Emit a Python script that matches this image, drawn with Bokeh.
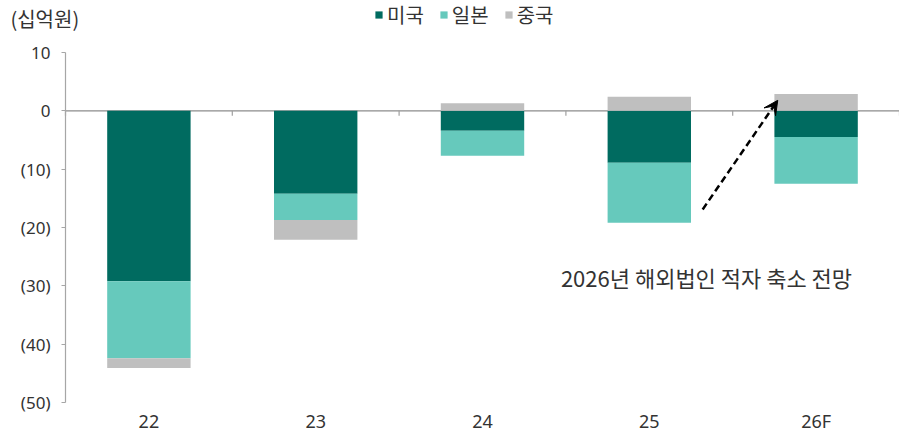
import numpy as np
from bokeh.plotting import figure
from bokeh.models import Range1d, FixedTicker, Label, Arrow, VeeHead, Legend, LegendItem, LinearAxis
from bokeh.embed import file_html
from bokeh.resources import INLINE

# ---- data ----
categories = ["22", "23", "24", "25", "26F"]
us = [-29.2, -14.2, -3.4, -8.9, -4.5]        # 미국
japan = [-13.2, -4.5, -4.3, -10.3, -8.0]     # 일본
china = [-1.7, -3.4, 1.3, 2.4, 2.9]          # 중국
series_names = ["미국", "일본", "중국"]
y_ticks = [10, 0, -10, -20, -30, -40, -50]
y_tick_labels = ["10", "0", "(10)", "(20)", "(30)", "(40)", "(50)"]
y_min, y_max = -50, 10
unit_label = "(십억원)"
note_text = "2026년 해외법인 적자 축소 전망"

# annotation positions (data coords)
arrow_start = (3.82, -16.9)
arrow_end = (4.27, 1.8)
note_pos = (2.97, -28.4)
unit_pos = (-0.33, 15.8)

# ---- layout (pixels) ----
W, H = 899, 433
axis_left_px, axis_top_px, axis_bottom_px = 65, 52, 402

colors = ["#006B60", "#66C9BC", "#BFBFBF"]
KFONT = "Noto Sans CJK KR"
TXT = "#333333"

n = len(categories)
xc = np.arange(n) + 0.5

# ranges chosen so that the plotting area fills the canvas
x_scale = (W - axis_left_px) / n
y_scale = (axis_bottom_px - axis_top_px) / (y_max - y_min)
x_range = Range1d(-axis_left_px / x_scale, n)
y_range = Range1d(y_min - (H - axis_bottom_px) / y_scale, y_max + axis_top_px / y_scale)

p = figure(width=W, height=H, x_range=x_range, y_range=y_range,
           output_backend="svg", toolbar_location=None,
           x_axis_location=None, y_axis_location=None, min_border=0)
p.xgrid.visible = False
p.ygrid.visible = False
p.outline_line_color = None

# zero line with category-boundary ticks (behind the bars)
bounds = np.arange(n + 1)
p.segment(x0=[0], y0=[0], x1=[n], y1=[0], line_color="#8C8C8C", line_width=1.2)
p.segment(x0=bounds, y0=np.zeros(n + 1), x1=bounds, y1=np.full(n + 1, -5 / y_scale),
          line_color="#A0A0A0", line_width=1.2)

# stacking: positives upward from 0, negatives downward from 0
pos_base = np.zeros(n)
neg_base = np.zeros(n)
renderers = []
for vals, col in zip([us, japan, china], colors):
    v = np.array(vals, dtype=float)
    bottom = np.where(v >= 0, pos_base, neg_base + v)
    top = np.where(v >= 0, pos_base + v, neg_base)
    pos_base = pos_base + np.where(v >= 0, v, 0)
    neg_base = neg_base + np.where(v < 0, v, 0)
    r = p.vbar(x=xc, width=0.5, bottom=bottom, top=top, fill_color=col, line_color=None)
    renderers.append(r)

# y axis pinned at x = 0
yax = LinearAxis(fixed_location=0, bounds=(y_min, y_max), ticker=FixedTicker(ticks=y_ticks))
yax.major_label_overrides = {t: l for t, l in zip(y_ticks, y_tick_labels)}
yax.axis_line_color = "#A6A6A6"
yax.axis_line_width = 1.2
yax.major_tick_line_color = "#A6A6A6"
yax.major_tick_line_width = 1.2
yax.major_tick_in = 0
yax.major_tick_out = 4
yax.minor_tick_line_color = None
yax.major_label_standoff = 11
yax.major_label_text_font = "Noto Sans"
yax.major_label_text_font_size = "17px"
yax.major_label_text_color = TXT
p.add_layout(yax, "left")

# category labels below the bottom of the value axis
xax = LinearAxis(fixed_location=y_min, ticker=FixedTicker(ticks=list(xc)))
xax.major_label_overrides = {float(x): c for x, c in zip(xc, categories)}
xax.axis_line_color = None
xax.major_tick_line_color = None
xax.major_tick_in = 0
xax.major_tick_out = 0
xax.minor_tick_line_color = None
xax.major_label_standoff = 6
xax.major_label_text_font = "Noto Sans"
xax.major_label_text_font_size = "18px"
xax.major_label_text_color = TXT
p.add_layout(xax, "below")

# legend (frame covers the whole canvas, location from its bottom-left)
legend = Legend(items=[LegendItem(label=nm, renderers=[r]) for nm, r in zip(series_names, renderers)],
                orientation="horizontal", location=(374, 404),
                background_fill_alpha=0, border_line_color=None, padding=0, margin=0,
                label_text_font=KFONT, label_text_font_size="20px", label_text_color=TXT,
                glyph_width=9, glyph_height=9, label_standoff=4, spacing=15)
p.add_layout(legend, "center")

# unit label
p.add_layout(Label(x=unit_pos[0], y=unit_pos[1], text=unit_label, text_font=KFONT,
                   text_font_size="20px", text_color=TXT, text_baseline="middle"))

# note
p.add_layout(Label(x=note_pos[0], y=note_pos[1], text=note_text, text_font=KFONT,
                   text_font_size="22px", text_color=TXT, text_baseline="middle"))

# arrow
p.add_layout(Arrow(x_start=arrow_start[0], y_start=arrow_start[1], x_end=arrow_end[0], y_end=arrow_end[1],
                   line_color="black", line_width=2.5, line_dash="7 4",
                   end=VeeHead(size=14, fill_color="black", line_color="black", line_width=1)))

open("out.html", "w").write(file_html(p, INLINE))
